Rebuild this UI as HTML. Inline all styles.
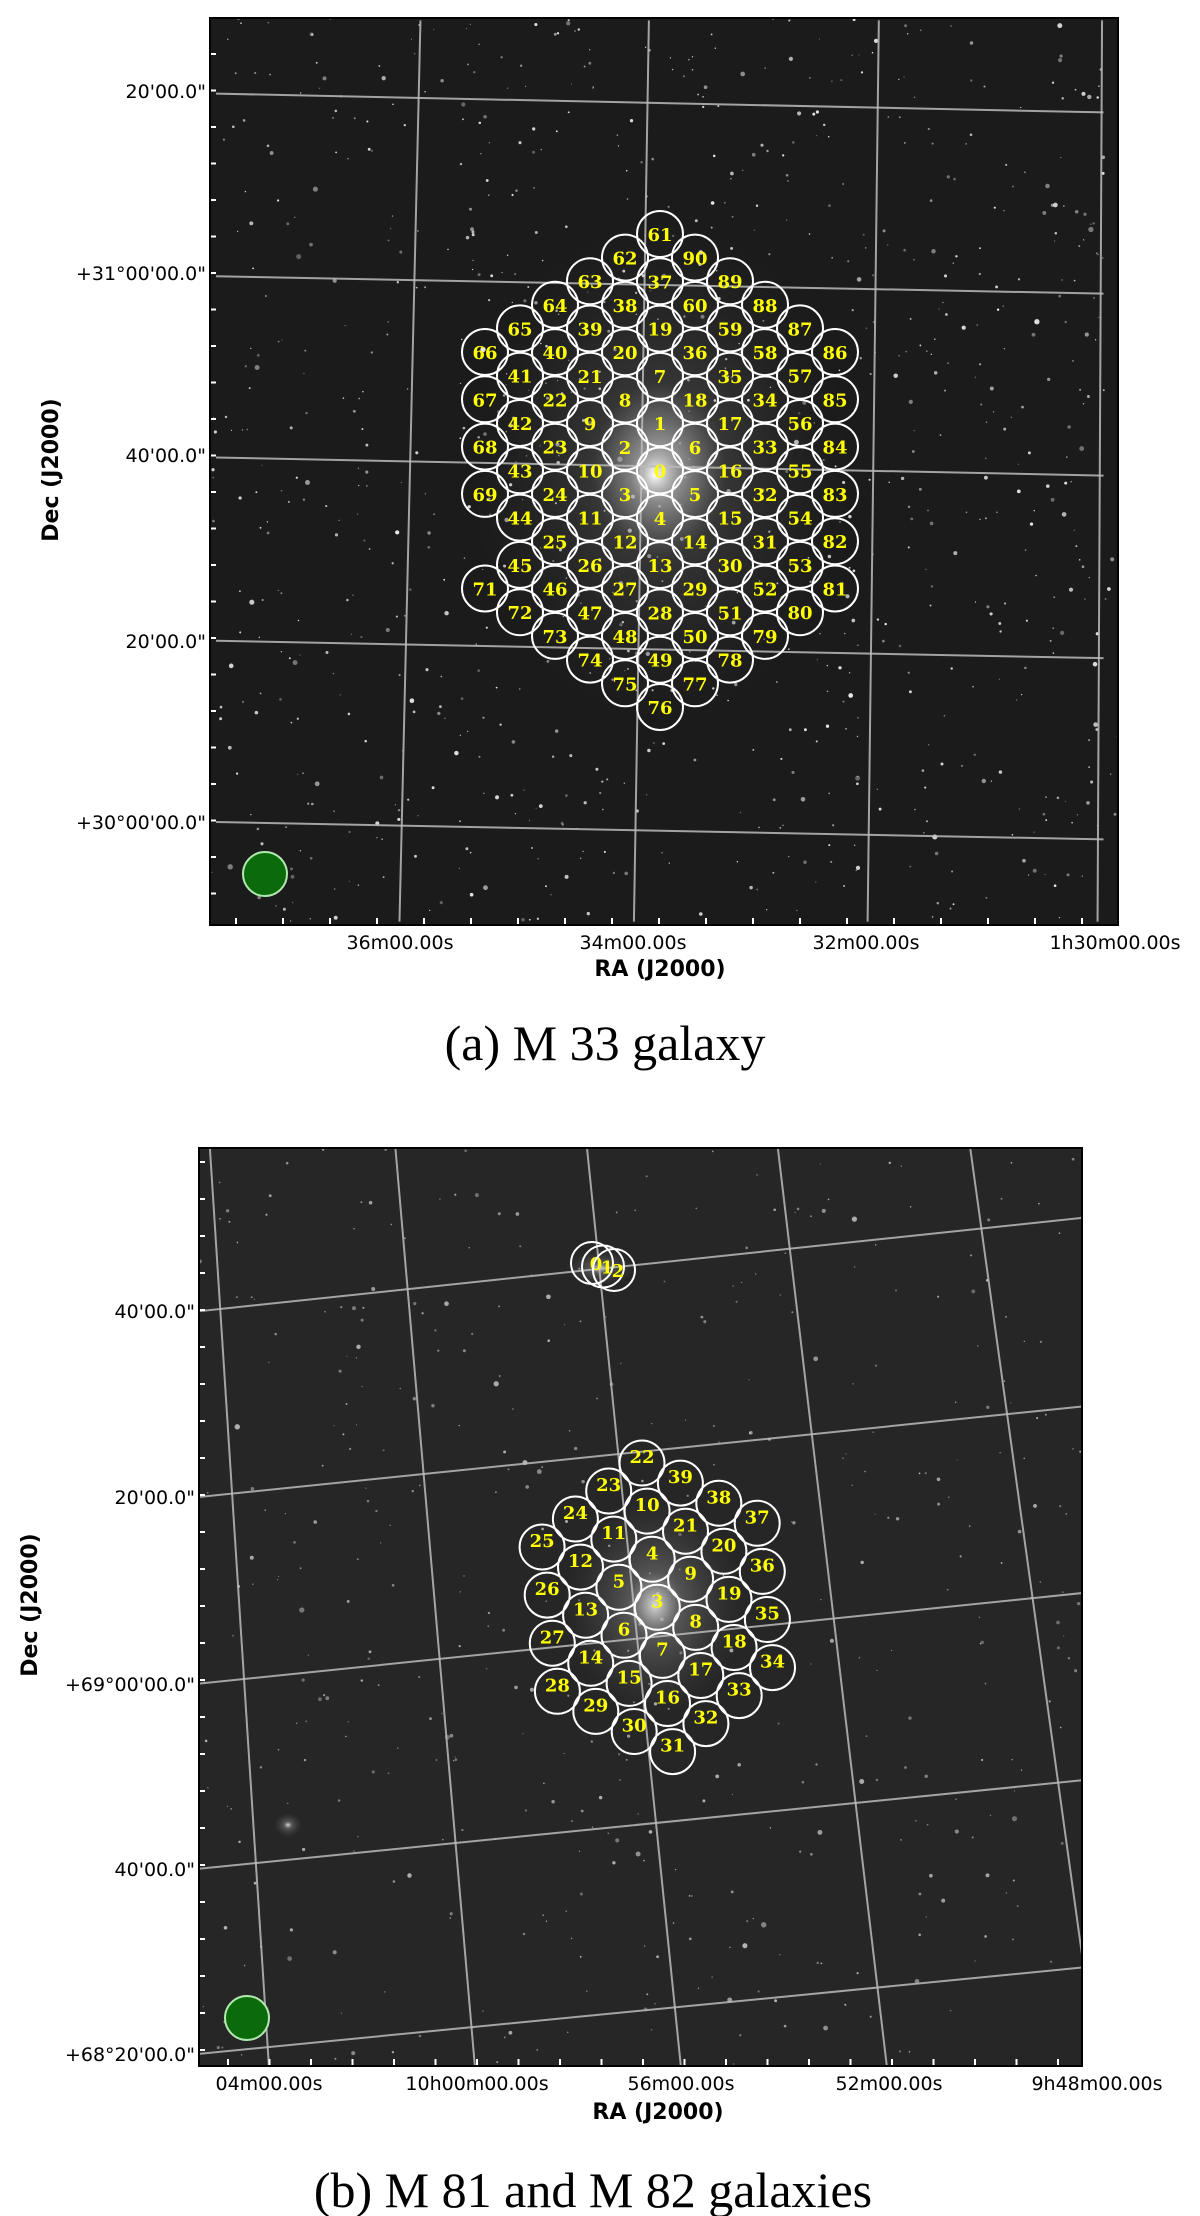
<!DOCTYPE html>
<html><head><meta charset="utf-8"><style>
html,body{margin:0;padding:0;background:#fff;}
svg{display:block;}
.tk{font-family:"DejaVu Sans","Liberation Sans",sans-serif;font-size:19px;fill:#000;}
.at{font-family:"DejaVu Sans","Liberation Sans",sans-serif;font-size:22px;font-weight:bold;fill:#000;}
.cap{font-family:"Liberation Serif",serif;font-size:50px;fill:#000;}
.lb{font-family:"DejaVu Serif","Liberation Serif",serif;font-size:18px;font-weight:bold;fill:#ffff00;}
</style></head><body>
<svg id="fig" width="1200" height="2216" viewBox="0 0 1200 2216" xmlns="http://www.w3.org/2000/svg">
<defs>
<radialGradient id="glowA" cx="0.5" cy="0.5" r="0.5">
<stop offset="0" stop-color="#ffffff" stop-opacity="1"/>
<stop offset="0.1" stop-color="#dddddd" stop-opacity="0.8"/>
<stop offset="0.35" stop-color="#888888" stop-opacity="0.3"/>
<stop offset="1" stop-color="#444444" stop-opacity="0"/>
</radialGradient>
<radialGradient id="glowB" cx="0.5" cy="0.5" r="0.5">
<stop offset="0" stop-color="#eeeeee" stop-opacity="0.9"/>
<stop offset="0.3" stop-color="#999999" stop-opacity="0.4"/>
<stop offset="1" stop-color="#555555" stop-opacity="0"/>
</radialGradient>
<clipPath id="clipA"><rect x="210" y="18" width="908" height="907"/></clipPath>
<clipPath id="clipB"><rect x="199" y="1148" width="883" height="918"/></clipPath>
</defs>
<g id="panelA"></g>
<g id="panelB"></g>
</svg>
<script>
// Panel A: pointing IDs per hex column (k=-5..5), top to bottom; null = missing
const colsA = [
 [66,67,68,69,null,71],
 [65,41,42,43,44,45,72],
 [64,40,22,23,24,25,46,73],
 [63,39,21,9,10,11,26,47,74],
 [62,38,20,8,2,3,12,27,48,75],
 [61,37,19,7,1,0,4,13,28,49,76],
 [90,60,36,18,6,5,14,29,50,77],
 [89,59,35,17,16,15,30,51,78],
 [88,58,34,33,32,31,52,79],
 [87,57,56,55,54,53,80],
 [86,85,84,83,82,81]
];
const yTicksA = ["20'00.0\"","+31°00'00.0\"","40'00.0\"","20'00.0\"","+30°00'00.0\""];
const xTicksA = ["36m00.00s","34m00.00s","32m00.00s","1h30m00.00s"];
// Panel B: pointing IDs per hex row, left to right
const rowsB = [
 [22,39,38,37],
 [23,10,21,20,36],
 [24,11,4,9,19,35],
 [25,12,5,3,8,18,34],
 [26,13,6,7,17,33],
 [27,14,15,16,32],
 [28,29,30,31]
];
const m82IDs = [0,1,2];
const yTicksB = ["40'00.0\"","20'00.0\"","+69°00'00.0\"","40'00.0\"","+68°20'00.0\""];
const xTicksB = ["04m00.00s","10h00m00.00s","56m00.00s","52m00.00s","9h48m00.00s"];

const NS="http://www.w3.org/2000/svg";
function mk(tag,attrs,parent){const e=document.createElementNS(NS,tag);for(const k in attrs)e.setAttribute(k,attrs[k]);parent.appendChild(e);return e;}
function axA(k){return 660+35*k;}
function ayA(k,j){return 234+23.6*Math.abs(k)+47.3*j;}
function pB(r,c){const cc=c+Math.max(0,r-3);return [642+38.4*cc-33.3*r,1463+20.1*cc+28*r];}
function za(x,y){return [0.749*x+10,0.697*y+3];}
function zb(x,y){return [0.763*x+2,1100+0.712*y];}

let seed=12345;function rnd(){seed=(seed*16807)%2147483647;return seed/2147483647;}
function stars(g,x0,y0,w,h,n,maxA){
 for(let i=0;i<n;i++){const s=mk('circle',{cx:(x0+rnd()*w).toFixed(1),cy:(y0+rnd()*h).toFixed(1),r:(0.6+rnd()*rnd()*2.2).toFixed(2),fill:'#fff','fill-opacity':(0.3+rnd()*maxA).toFixed(2)},g);
 
 }
}
function circ(g,cx,cy,r,id){
 const c=mk('circle',{cx:cx,cy:cy,r:r,fill:'none',stroke:'#fff','stroke-width':2},g);
 
 
 const t=mk('text',{x:cx,y:cy+7,'text-anchor':'middle',class:'lb'},g);t.textContent=id;
 
 
}
function line(g,p,q,name){const l=mk('line',{x1:p[0],y1:p[1],x2:q[0],y2:q[1],stroke:'#bbbbbb','stroke-width':2,'stroke-opacity':0.85},g);
 
 }

// ---------- Panel A ----------
(function(){
 const P=document.getElementById('panelA');
 const img=mk('g',{'clip-path':'url(#clipA)'},P);
 const bg=mk('rect',{x:210,y:18,width:908,height:907,fill:'#1b1b1b'},img);
 
 
 stars(img,210,18,908,907,900,0.6);
 const gl=mk('ellipse',{cx:660,cy:470,rx:190,ry:250,fill:'url(#glowA)','fill-opacity':0.8},img);
 
 
 mk('ellipse',{cx:655,cy:475,rx:70,ry:80,fill:'url(#glowA)'},img);
 const hl=[[130,157],[392,417],[652,678],[915,940],[1175,1200]];
 hl.forEach(h=>line(img,za(275,h[0]),za(1460,h[1]),'dec-grid-line'));
 const vl=[[548,520],[853,833],[1160,1145],[1458,1452]];
 vl.forEach(v=>line(img,za(v[0],25),za(v[1],1318),'ra-grid-line'));
 colsA.forEach((col,ci)=>{const k=ci-5;col.forEach((id,j)=>{if(id===null)return;circ(img,axA(k),ayA(k,j),23,id);});});
 const gc=mk('circle',{cx:265,cy:874,r:22,fill:'#0b6b0b',stroke:'#b0e8b0','stroke-width':2},img);
 
 
 for(let y=54;y<925;y+=36.5){mk('line',{x1:210,y1:y,x2:216,y2:y,stroke:'#fff','stroke-width':2},img);}
 for(let x=236;x<1118;x+=47){mk('line',{x1:x,y1:925,x2:x,y2:918,stroke:'#fff','stroke-width':2},img);}
 const fr=mk('rect',{x:210,y:18,width:908,height:907,fill:'none',stroke:'#000','stroke-width':2},P);
 
 
 const yPos=[91,273,455,641,822];
 yTicksA.forEach((s,i)=>{const t=mk('text',{x:206,y:yPos[i]+7,'text-anchor':'end',class:'tk'},P);t.textContent=s;
  
  });
 const xPos=[400,633,866,1115];
 xTicksA.forEach((s,i)=>{const t=mk('text',{x:xPos[i],y:949,'text-anchor':'middle',class:'tk'},P);t.textContent=s;
  
  });
 const xt=mk('text',{x:660,y:976,'text-anchor':'middle',class:'at'},P);xt.textContent='RA (J2000)';
 
 
 const yt=mk('text',{x:0,y:0,'text-anchor':'middle',class:'at',transform:'translate(58,470) rotate(-90)'},P);yt.textContent='Dec (J2000)';
 
 
 const cp=mk('text',{x:605,y:1060,'text-anchor':'middle',class:'cap'},P);cp.textContent='(a) M 33 galaxy';
 
 
})();

// ---------- Panel B ----------
(function(){
 const P=document.getElementById('panelB');
 const img=mk('g',{'clip-path':'url(#clipB)'},P);
 const bg=mk('rect',{x:199,y:1148,width:883,height:918,fill:'#262626'},img);
 
 
 stars(img,199,1148,883,918,450,0.35);
 const g1=mk('ellipse',{cx:655,cy:1605,rx:90,ry:110,fill:'url(#glowB)'},img);
 
 
 const g2=mk('ellipse',{cx:600,cy:1268,rx:35,ry:18,fill:'url(#glowB)'},img);
 
 
 mk('ellipse',{cx:288,cy:1825,rx:14,ry:12,fill:'url(#glowB)'},img);
 const hl=[[297,165],[558,430],[820,692],[1080,955],[1340,1218]];
 hl.forEach(h=>line(img,zb(255,h[0]),zb(1420,h[1]),'dec-grid-line'));
 const vl=[[272,60,350,1360],[515,60,620,1360],[766,60,890,1360],[1016,60,1160,1360],[1268,60,1418,1220]];
 vl.forEach(v=>line(img,zb(v[0],v[1]),zb(v[2],v[3]),'ra-grid-line'));
 rowsB.forEach((row,r)=>row.forEach((id,c)=>{const p=pB(r,c);circ(img,p[0].toFixed(1),p[1].toFixed(1),22.5,id);}));
 m82IDs.forEach((id,i)=>{const cx=592+11*i,cy=1263+3.5*i;
  const c=mk('circle',{cx:cx,cy:cy,r:21,fill:'none',stroke:'#fff','stroke-width':2},img);
  
  
  const t=mk('text',{x:cx+4,y:cy+7,'text-anchor':'middle',class:'lb'},img);t.textContent=id;
  
  });
 const gc=mk('circle',{cx:247,cy:2018,r:22,fill:'#0b6b0b',stroke:'#b0e8b0','stroke-width':2},img);
 
 
 for(let y=1162;y<2066;y+=37){mk('line',{x1:199,y1:y,x2:205,y2:y,stroke:'#fff','stroke-width':2},img);}
 for(let x=228;x<1082;x+=41.5){mk('line',{x1:x,y1:2066,x2:x,y2:2059,stroke:'#fff','stroke-width':2},img);}
 const fr=mk('rect',{x:199,y:1148,width:883,height:918,fill:'none',stroke:'#000','stroke-width':2},P);
 
 
 const yPos=[1311,1497,1684,1869,2054];
 yTicksB.forEach((s,i)=>{const t=mk('text',{x:195,y:yPos[i]+7,'text-anchor':'end',class:'tk'},P);t.textContent=s;
  
  });
 const xPos=[269,477,681,889,1097];
 xTicksB.forEach((s,i)=>{const t=mk('text',{x:xPos[i],y:2090,'text-anchor':'middle',class:'tk'},P);t.textContent=s;
  
  });
 const xt=mk('text',{x:658,y:2119,'text-anchor':'middle',class:'at'},P);xt.textContent='RA (J2000)';
 
 
 const yt=mk('text',{x:0,y:0,'text-anchor':'middle',class:'at',transform:'translate(37,1605) rotate(-90)'},P);yt.textContent='Dec (J2000)';
 
 
 const cp=mk('text',{x:593,y:2207,'text-anchor':'middle',class:'cap'},P);cp.textContent='(b) M 81 and M 82 galaxies';
 
 
})();
</script>
</body></html>
